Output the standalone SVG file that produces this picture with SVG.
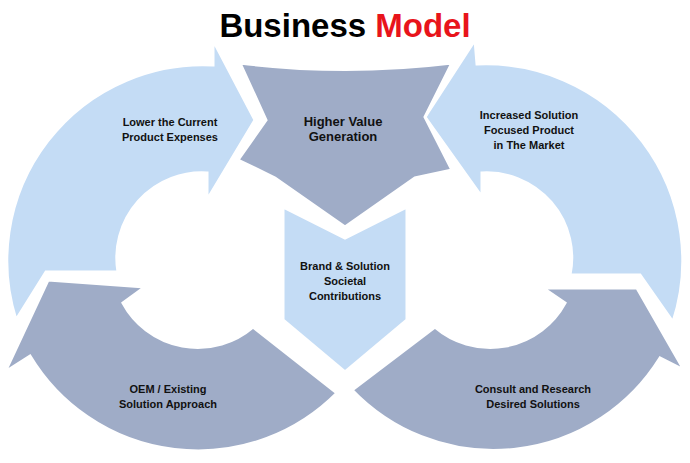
<svg xmlns="http://www.w3.org/2000/svg" width="690" height="463" viewBox="0 0 690 463">
<style>
.lt{fill:#c4dcf5;stroke:#fff;stroke-width:3;stroke-linejoin:miter}
.dk{fill:#9facc7;stroke:#fff;stroke-width:3;stroke-linejoin:miter}
.lb{font-family:"Liberation Sans",Arial,sans-serif;font-weight:bold;font-size:11px;fill:#111;text-anchor:middle}
.big{font-size:13px}
.title{font-family:"Liberation Sans",Arial,sans-serif;font-weight:bold;font-size:33px;text-anchor:middle}
</style>
<rect width="690" height="463" fill="#fff"/>
<text class="title" x="345" y="37"><tspan fill="#000">Business </tspan><tspan fill="#e8141b">Model</tspan></text>
<g id="connectors">
<path id="lower-arrow" class="lt" d="M16 320 A196 196 0 0 1 213 65 L213 40 L255 120 L207 200 L207 173 A85 85 0 0 0 118 272 L46 272 Z"/>
<path id="oem-arrow" class="dk" d="M253 327 L337 393 A196 196 0 0 1 30 356 L5 372 L48 280 L145 287 L123 303 A85 85 0 0 0 253 327 Z"/>
<path id="increased-arrow" class="lt" d="M475 40 L425 117 L482 197 L482 173 A85 85 0 0 1 570 275 L640 275 L673 322 A197 197 0 0 0 477 64 Z"/>
<path id="consult-arrow" class="dk" d="M435 327 A85 85 0 0 0 565 303 L543 288 L637 288 L684 370 L660 358 A196 196 0 0 1 352 390 Z"/>
</g>
<g id="higher-value">
<path class="dk" d="M240 63 Q345 76 452 63 L425 117 L452 170 L415 178 L345 227 L275 178 L238 160 L266 120 Z"/>
<text class="lb big" x="343" y="126">Higher Value</text>
<text class="lb big" x="343" y="141">Generation</text>
</g>
<g id="brand">
<path class="lt" d="M283 207 L345 238 L407 207 L407 320 L345 372 L283 320 Z"/>
<text class="lb" x="345" y="270">Brand &amp; Solution</text>
<text class="lb" x="345" y="285">Societal</text>
<text class="lb" x="345" y="300">Contributions</text>
</g>
<g id="lower">
<text class="lb" x="170" y="126">Lower the Current</text>
<text class="lb" x="170" y="141">Product Expenses</text>
</g>
<g id="increased">
<text class="lb" x="529" y="119">Increased Solution</text>
<text class="lb" x="529" y="134">Focused Product</text>
<text class="lb" x="529" y="149">in The Market</text>
</g>
<g id="oem">
<text class="lb" x="168" y="393">OEM / Existing</text>
<text class="lb" x="168" y="408">Solution Approach</text>
</g>
<g id="consult">
<text class="lb" x="533" y="393">Consult and Research</text>
<text class="lb" x="533" y="408">Desired Solutions</text>
</g>
</svg>
